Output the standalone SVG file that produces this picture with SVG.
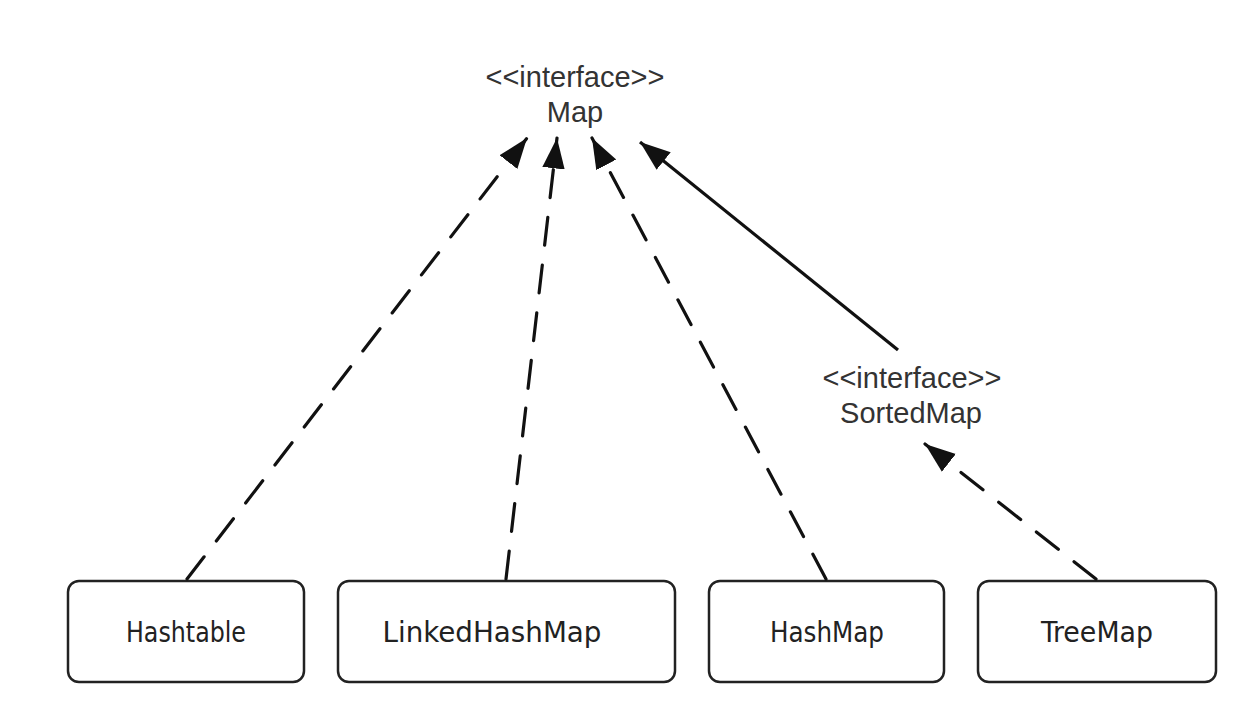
<svg xmlns="http://www.w3.org/2000/svg" width="1254" height="708" viewBox="0 0 1254 708">
<style>
.box{fill:#fff;stroke:#222;stroke-width:2.5}
.lbl{font-family:"Liberation Sans",Arial,sans-serif;font-size:29px;fill:#333;text-anchor:middle}
.blbl{font-family:"DejaVu Sans Condensed","DejaVu Sans","Liberation Sans",sans-serif;font-size:28px;fill:#222;text-anchor:middle}
.dash{stroke:#111;stroke-width:3.2;fill:none;stroke-dasharray:28 20;stroke-linecap:round}
.solid{stroke:#111;stroke-width:3.2;fill:none}
</style>
<defs>
<marker id="arr" viewBox="0 0 10 10" refX="10" refY="5" markerWidth="9.5" markerHeight="9.5" markerUnits="strokeWidth" orient="auto">
<path d="M0,1.3 L10,5 L0,8.7 z" fill="#111"/>
</marker>
</defs>
<rect width="1254" height="708" fill="#fff"/>
<g id="map">
<text class="lbl" x="575" y="87">&lt;&lt;interface&gt;&gt;</text>
<text class="lbl" x="575" y="122">Map</text>
</g>
<g id="sortedmap">
<text class="lbl" x="912" y="388">&lt;&lt;interface&gt;&gt;</text>
<text class="lbl" x="911" y="423">SortedMap</text>
</g>
<g id="hashtable">
<rect class="box" x="68" y="581" width="236" height="101" rx="11"/>
<text class="blbl" x="186" y="642" textLength="120" lengthAdjust="spacingAndGlyphs">Hashtable</text>
</g>
<g id="linkedhashmap">
<rect class="box" x="338" y="581" width="337" height="101" rx="11"/>
<text class="blbl" x="492" y="642" textLength="219" lengthAdjust="spacingAndGlyphs">LinkedHashMap</text>
</g>
<g id="hashmap">
<rect class="box" x="709" y="581" width="235" height="101" rx="11"/>
<text class="blbl" x="827" y="642" textLength="114" lengthAdjust="spacingAndGlyphs">HashMap</text>
</g>
<g id="treemap">
<rect class="box" x="978" y="581" width="238" height="101" rx="11"/>
<text class="blbl" x="1097" y="642" textLength="112" lengthAdjust="spacingAndGlyphs">TreeMap</text>
</g>
<g id="connectors">
<line class="dash" x1="187" y1="579" x2="527" y2="138" marker-end="url(#arr)"/>
<line class="dash" x1="506" y1="579" x2="557" y2="138" marker-end="url(#arr)"/>
<line class="dash" x1="826" y1="579" x2="592" y2="138" marker-end="url(#arr)"/>
<line class="solid" x1="898" y1="350" x2="640" y2="142" marker-end="url(#arr)"/>
<line class="dash" x1="1096" y1="579" x2="925" y2="444" marker-end="url(#arr)"/>
</g>
</svg>
